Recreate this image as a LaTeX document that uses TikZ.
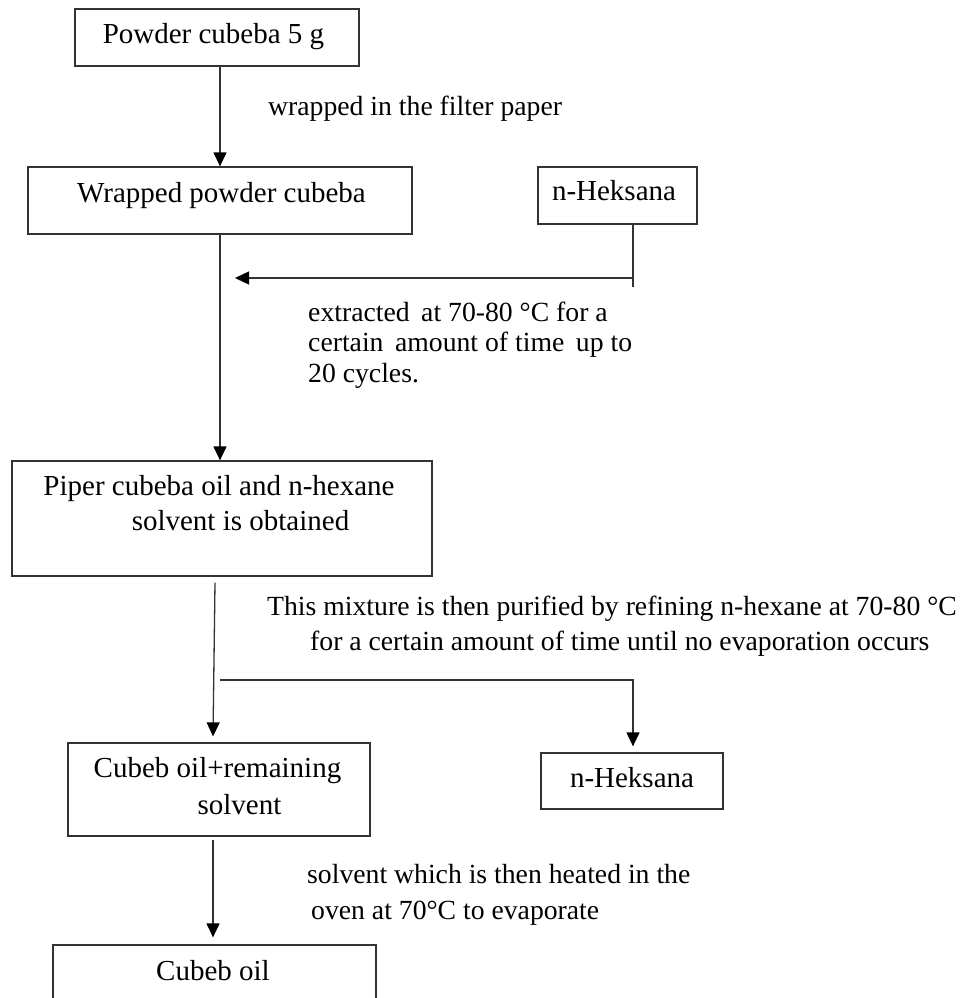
\documentclass[tikz,border=0pt]{standalone}
\usepackage{fontspec}
\setmainfont{Liberation Serif}
\usetikzlibrary{arrows.meta,calc}

\tikzset{
  box/.style={draw=black!80, line width=1.3pt, inner sep=0pt, minimum width=#1},
  line/.style={draw=black!80, line width=1.3pt},
  arr/.style={line, -{Triangle[length=14pt,width=13pt,color=black,fill=black]}},
  btext/.style={anchor=base, inner sep=0pt, font=\fontsize{29}{33}\selectfont},
  ntext/.style={anchor=base west, inner sep=0pt, font=\fontsize{27.7}{31}\selectfont},
}

\begin{document}
\begin{tikzpicture}[x=1pt, y=-1pt]
\useasboundingbox (0,0) rectangle (961,998);
\clip (0,0) rectangle (961,998);

% process boxes
\node[box=284pt, minimum height=57pt] (powder) at (217,37.5) {};
\node[box=384pt, minimum height=67pt] (wrapped) at (220,200.5) {};
\node[box=159pt, minimum height=57pt] (hex1) at (617.5,195.5) {};
\node[box=420pt, minimum height=115pt] (piper) at (222,518.5) {};
\node[box=302pt, minimum height=93pt] (remain) at (219,789.5) {};
\node[box=182pt, minimum height=56pt] (hex2) at (632,781) {};
\node[box=323pt, minimum height=80pt] (oil) at (214.5,985) {};

% box captions
\node[btext] (powder-t) at (213.5,44) {Powder cubeba 5 g};
\node[btext] (wrapped-t) at (221.5,202) {Wrapped powder cubeba};
\node[btext] (hex1-t) at (614,200) {n-Heksana};
\node[btext] (piper-t1) at (219,495) {Piper cubeba oil and n-hexane};
\node[btext] (piper-t2) at (240.5,530) {solvent is obtained};
\node[btext] (hex2-t) at (632,787) {n-Heksana};
\node[btext] (remain-t1) at (217.5,777) {Cubeb oil+remaining};
\node[btext] (remain-t2) at (239.5,814) {solvent};
\node[btext] (oil-t) at (213,980) {Cubeb oil};

% step notes
\node[ntext] (n1) at (268,115) {wrapped in the filter paper};
\node[ntext] (n2a) at (308,321) {extracted\, at 70-80 °C for a};
\node[ntext] (n2b) at (308,351) {certain\, amount of time\, up to};
\node[ntext] (n2c) at (308,382) {20 cycles.};
\node[ntext] (n3a) at (267,615) {This mixture is then purified by refining n-hexane at 70-80 °C};
\node[ntext] (n3b) at (310,650) {for a certain amount of time until no evaporation occurs};
\node[ntext] (n4a) at (307,883) {solvent which is then heated in the};
\node[ntext] (n4b) at (311,919) {oven at 70°C to evaporate};

% connector joints
\coordinate (feed) at (633,278);
\coordinate (feedend) at (633,287);
\coordinate (feedtip) at (235,278);
\coordinate (split) at (220,680);
\coordinate (splitturn) at (633,680);

% main flow
\draw[arr] (powder.south -| wrapped.north) -- (wrapped.north);
\draw[arr] (wrapped.south) -- (wrapped.south |- piper.north);
\draw[arr] ($(piper.south)+(-7,6)$) -- ($(remain.north)+(-6,-6)$);
\draw[arr] ($(remain.south)+(-6,3)$) -- ($(oil.north)+(-1.5,-7)$);

% solvent feed into the extraction
\draw[line] (hex1.south -| feed) -- (feedend);
\draw[arr] (feed) -- (feedtip);

% solvent recovered by refining
\draw[arr] (split) -- (splitturn) -- ($(splitturn |- hex2.north)+(0,-6)$);
\end{tikzpicture}
\end{document}
